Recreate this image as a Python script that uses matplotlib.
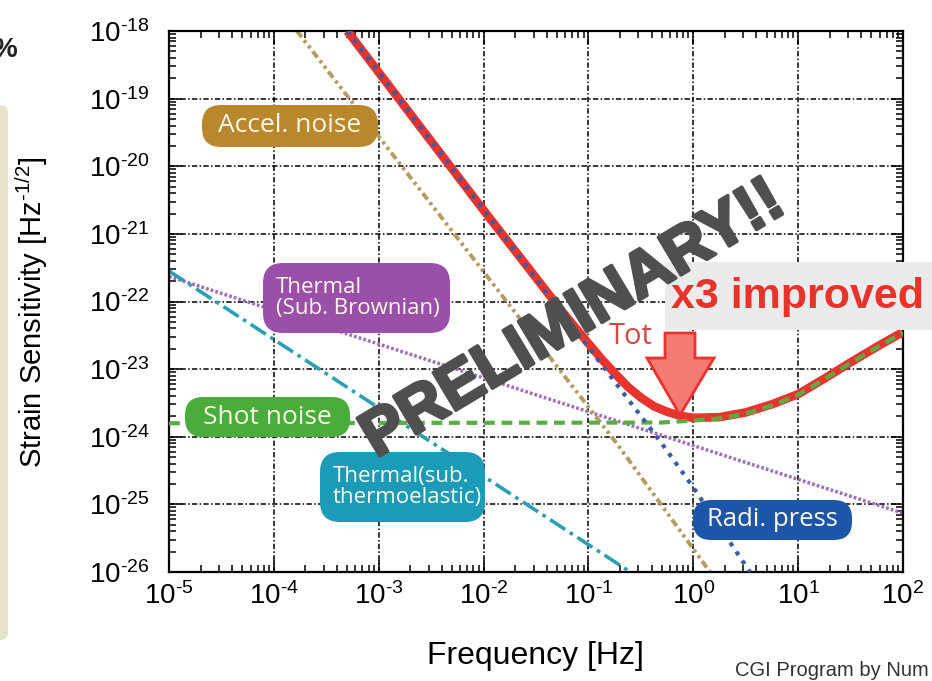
import matplotlib
matplotlib.use('Agg')
import matplotlib.pyplot as plt
import matplotlib.patches as mpatches
import matplotlib.patheffects as pe
from matplotlib.transforms import IdentityTransform
from matplotlib.ticker import FixedLocator, FuncFormatter, LogLocator, NullFormatter
import math

W, H = 932, 681
plt.rcParams['font.family'] = ['Liberation Sans', 'DejaVu Sans']
plt.rcParams['mathtext.fontset'] = 'custom'
plt.rcParams['mathtext.rm'] = 'Liberation Sans'
plt.rcParams['mathtext.it'] = 'Liberation Sans:italic'
plt.rcParams['mathtext.bf'] = 'Liberation Sans:bold'
plt.rcParams['axes.unicode_minus'] = False

# ---- data (log10 of frequency [Hz] and strain [Hz^-1/2]) ----
total_logf = [-3.30, -2.0, -1.5, -1.25, -1.0, -0.875, -0.75, -0.625, -0.5, -0.375, -0.25, -0.125,
              0.0, 0.25, 0.5, 0.75, 1.0, 1.25, 1.5, 1.75, 2.0]
total_logh = [-18.0, -20.65, -21.65, -22.15, -22.62, -22.85, -23.06, -23.26, -23.42, -23.55, -23.63, -23.69,
              -23.72, -23.71, -23.64, -23.52, -23.37, -23.14, -22.9, -22.67, -22.45]

radi_logf = [-3.30, -0.30, 0.0, 0.54]
radi_logh = [-18.0, -24.1, -24.75, -26.0]

accel_logf = [-3.78, -0.73, 0.16]
accel_logh = [-18.0, -24.1, -26.0]

shot_logf = [-5.0, -0.3, 0.0, 0.25, 0.5, 0.75, 1.0, 1.25, 1.5, 1.75, 2.0]
shot_logh = [-23.8, -23.79, -23.76, -23.73, -23.66, -23.54, -23.38, -23.15, -22.91, -22.68, -22.46]

brown_logf = [-5.0, 2.0]
brown_logh = [-21.63, -25.13]

thelas_logf = [-5.0, -0.60]
thelas_logh = [-21.55, -26.0]

xtick_exp = [-5, -4, -3, -2, -1, 0, 1, 2]
ytick_exp = [-26, -25, -24, -23, -22, -21, -20, -19, -18]


def tolin(v):
    return [10.0 ** a for a in v]


def px(x, y):
    return (x, H - y)


def pow_label(v, pos):
    e = int(round(math.log10(v)))
    return r'$\mathdefault{10^{\text{%d}}}$' % e


fig = plt.figure(figsize=(W / 100, H / 100), dpi=100)
fig.patch.set_facecolor('white')

# left slide remnants
beige = mpatches.FancyBboxPatch(px(-20, 640), 28, 535, boxstyle='round,pad=0,rounding_size=8',
                                transform=IdentityTransform(), fc='#e7e3cb', ec='none')
fig.add_artist(beige)
fig.text(-8, H - 50, '%', transform=IdentityTransform(), fontsize=20, fontweight='bold',
         color='#222222', va='center', ha='left')

ax = fig.add_axes([169 / W, 1 - 572 / H, (903 - 169) / W, (572 - 31) / H])
ax.set_xscale('log')
ax.set_yscale('log')
ax.set_xlim(1e-5, 1e2)
ax.set_ylim(1e-26, 1e-18)

ax.plot(tolin(total_logf), tolin(total_logh), color='#e8342c', lw=6.2, solid_capstyle='butt',
        solid_joinstyle='round', zorder=3)
ax.plot(tolin(brown_logf), tolin(brown_logh), color='#a070b4', lw=2.5, dashes=(0.8, 0.6), zorder=2)
ax.plot(tolin(thelas_logf), tolin(thelas_logh), color='#2aa0b2', lw=2.6, dashes=(5, 1.5, 1, 1.5), zorder=2)
ax.plot(tolin(accel_logf), tolin(accel_logh), color='#b59a62', lw=2.8, dashes=(2.0, 1.0, 0.8, 1.0, 0.8, 1.0), zorder=2)
ax.plot(tolin(shot_logf), tolin(shot_logh), color='#5aad45', lw=3, dashes=(2.6, 1.6), zorder=4)
ax.plot(tolin(radi_logf), tolin(radi_logh), color='#3a5aa6', lw=3, dashes=(1.0, 1.6), zorder=4)

ax.xaxis.set_major_locator(FixedLocator([10.0 ** k for k in xtick_exp]))
ax.yaxis.set_major_locator(FixedLocator([10.0 ** k for k in ytick_exp]))
ax.xaxis.set_major_formatter(FuncFormatter(pow_label))
ax.yaxis.set_major_formatter(FuncFormatter(pow_label))
ax.xaxis.set_minor_locator(LogLocator(base=10, subs=range(2, 10), numticks=50))
ax.yaxis.set_minor_locator(LogLocator(base=10, subs=range(2, 10), numticks=50))
ax.xaxis.set_minor_formatter(NullFormatter())
ax.yaxis.set_minor_formatter(NullFormatter())

ax.tick_params(which='both', direction='in', top=True, right=True, width=1.1, color='black')
ax.tick_params(which='major', length=9, labelsize=20, pad=7)
ax.tick_params(axis='y', which='major', pad=14)
ax.tick_params(which='minor', length=5)
for s in ax.spines.values():
    s.set_linewidth(1.6)
ax.grid(True, which='major', color='black', lw=1.1, dashes=(3.5, 1.5, 1, 1.5))
ax.set_axisbelow(True)

ax.set_xlabel('Frequency [Hz]', fontsize=23)
ax.xaxis.set_label_coords((535 - 169) / 734, (572 - 641) / 541)
ax.set_ylabel(r'Strain Sensitivity [Hz$^{\text{-1/2}}$]', fontsize=21)
ax.yaxis.set_label_coords((50 - 169) / 734, (572 - 312) / 541)


# label boxes (pixel coords, top-left origin)
def label_box(x0, y0, x1, y1, color, text, fs, tx=None):
    box = mpatches.FancyBboxPatch(px(x0, y1), x1 - x0, y1 - y0,
                                  boxstyle='round,pad=0,rounding_size=%f' % (min(20, (y1 - y0) / 2.2)),
                                  transform=IdentityTransform(), fc=color, ec='none', zorder=5)
    fig.add_artist(box)
    if tx is None:
        x, ha = (x0 + x1) / 2, 'center'
    else:
        x, ha = tx, 'left'
    fig.text(x, H - (y0 + y1) / 2, text, transform=IdentityTransform(), ha=ha,
             va='center', fontsize=fs, color='#fdf8e6', family=['Open Sans', 'DejaVu Sans'],
             linespacing=1.05, zorder=6)


label_box(202, 105, 378, 147, '#b8872e', 'Accel. noise', 19)
label_box(263, 263, 450, 333, '#9a50a8', 'Thermal\n(Sub. Brownian)', 16, tx=276)
label_box(185, 397, 350, 437, '#4aac3a', 'Shot noise', 19)
label_box(320, 452, 485, 522, '#1a9cb8', 'Thermal(sub.\nthermoelastic)', 16, tx=333)
label_box(693, 500, 852, 540, '#1d56a8', 'Radi. press', 18.5)

# PRELIMINARY watermark
fig.text(573, H - 320, 'PRELIMINARY!!', transform=IdentityTransform(), rotation=31,
         rotation_mode='anchor', ha='center', va='center', fontsize=46, fontweight='bold',
         color='#4f4f4f', zorder=7,
         path_effects=[pe.withStroke(linewidth=2.5, foreground='#4f4f4f')])

# x3 improved box
grey = mpatches.Rectangle(px(665, 330), 300, 68, transform=IdentityTransform(), fc='#ebebeb',
                          ec='none', zorder=6)
fig.add_artist(grey)
fig.text(671, H - 297, 'x3 improved', transform=IdentityTransform(), ha='left', va='center',
         fontsize=31, fontweight='bold', color='#e8322a', zorder=8)

fig.text(609, H - 336, 'Tot', transform=IdentityTransform(), ha='left', va='center',
         fontsize=21, color='#d24a44', family=['Open Sans', 'DejaVu Sans'], zorder=8)

arrow_pts = [px(665, 333), px(695, 333), px(695, 358), px(714, 358), px(680, 415),
             px(647, 358), px(665, 358)]
arrow = mpatches.Polygon(arrow_pts, closed=True, transform=IdentityTransform(), fc='#f47a74',
                         ec='#e8342c', lw=2, zorder=8)
fig.add_artist(arrow)

fig.text(735, H - 670, 'CGI Program by Num', transform=IdentityTransform(), ha='left',
         va='center', fontsize=14.5, color='#333333', zorder=8)

fig.savefig('out.png', dpi=100)
